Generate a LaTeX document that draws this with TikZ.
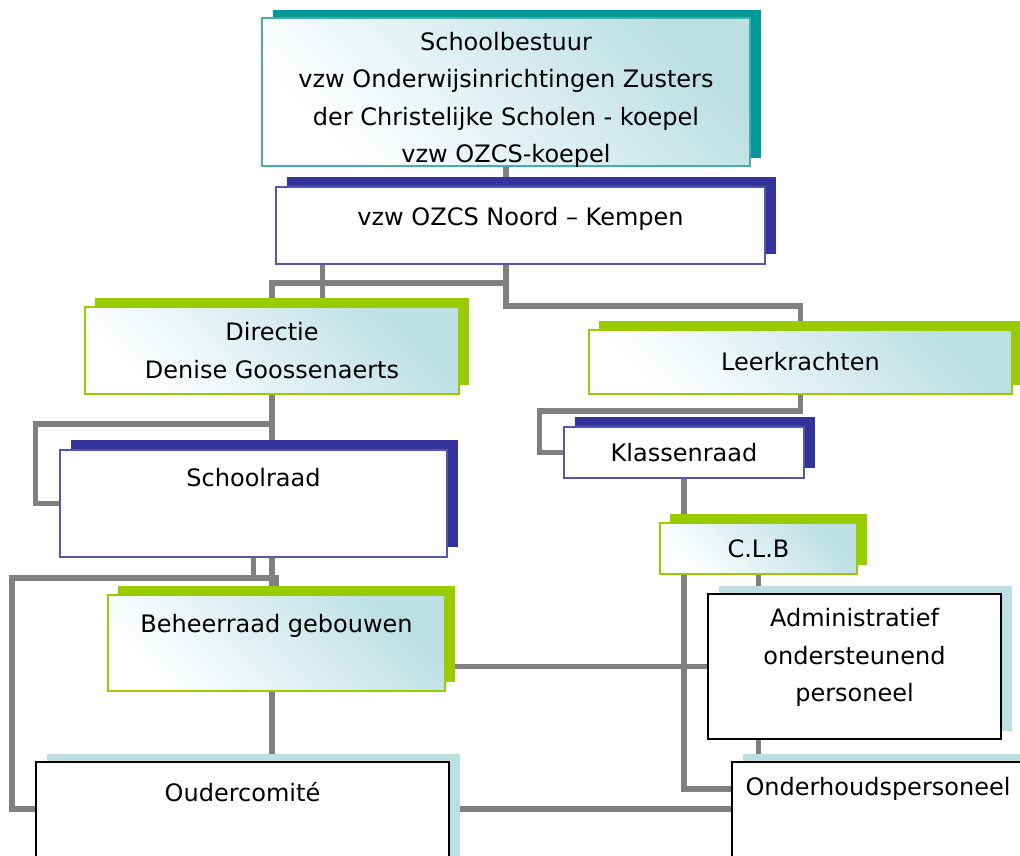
\documentclass[tikz,border=0pt]{standalone}
\usepackage{fontspec}
\setmainfont{DejaVu Sans}
\usetikzlibrary{positioning, shadows, backgrounds}
\definecolor{tealshade}{RGB}{0,153,153}
\definecolor{tealline}{RGB}{70,172,172}
\definecolor{navyshade}{RGB}{51,51,153}
\definecolor{navyline}{RGB}{85,85,178}
\definecolor{limegreen}{RGB}{153,204,0}
\definecolor{paleblue}{RGB}{187,223,227}
\definecolor{linkgray}{RGB}{128,128,128}
\tikzset{
every node/.style={font=\fontsize{24}{37.5}\selectfont, align=center, inner sep=0pt}, % same text everywhere
link/.style={draw=linkgray, line width=5.5pt}, % grey connectors
faded/.style={top color=paleblue, bottom color=white, shading angle=-45}, % white to pale blue
tealbox/.style={faded, draw=tealline, line width=1.5pt, drop shadow={shadow xshift=11pt, shadow yshift=8pt, fill=tealshade, opacity=1}},
navybox/.style={fill=white, draw=navyline, line width=1.5pt, drop shadow={shadow xshift=11pt, shadow yshift=10pt, fill=navyshade, opacity=1}},
limebox/.style={faded, draw=limegreen, line width=1.5pt, drop shadow={shadow xshift=10pt, shadow yshift=9pt, fill=limegreen, opacity=1}},
plainbox/.style={fill=white, draw=black, line width=2pt, drop shadow={shadow xshift=11pt, shadow yshift=8pt, fill=paleblue, opacity=1}},
}

\begin{document}
\begin{tikzpicture}[x=1pt, y=-1pt]
  \useasboundingbox (0,0) rectangle (1020,856);

  \node[tealbox, minimum width=488pt, minimum height=148pt, text height=142pt, text depth=0pt] (bestuur) at (506,92) {Schoolbestuur\\vzw Onderwijsinrichtingen Zusters\\der Christelijke Scholen - koepel\\vzw OZCS-koepel};
  \node[navybox, minimum width=489pt, minimum height=77pt, text depth=19pt, node distance=133.5pt, below of=bestuur, xshift=14.5pt] (ozcs) {vzw OZCS Noord – Kempen};
  \node[limebox, minimum width=374pt, minimum height=87pt, node distance=125pt, below of=ozcs, xshift=-248.5pt] (directie) {Directie\\Denise Goossenaerts};
  \node[limebox, minimum width=423pt, minimum height=64pt, node distance=136.5pt, below of=ozcs, xshift=280pt] (leerkr) {Leerkrachten};
  \node[navybox, minimum width=240pt, minimum height=51pt, node distance=90.5pt, below of=leerkr, xshift=-116.5pt] (klassen) {Klassenraad};
  \node[navybox, minimum width=387pt, minimum height=107pt, text depth=53pt, node distance=153pt, below of=directie, xshift=-18.5pt] (schoolraad) {Schoolraad};
  \node[limebox, minimum width=197pt, minimum height=51pt, node distance=96pt, below of=klassen, xshift=74.5pt] (clb) {C.L.B};
  \node[limebox, minimum width=337pt, minimum height=96pt, text depth=40pt, node distance=139.5pt, below of=schoolraad, xshift=23pt] (beheer) {Beheerraad gebouwen};
  \node[plainbox, minimum width=293pt, minimum height=145pt, text depth=23pt, node distance=118pt, below of=clb, xshift=96pt] (admin) {Administratief\\ondersteunend\\personeel};
  \node[plainbox, minimum width=413pt, minimum height=145pt, text depth=85pt, node distance=191.5pt, below of=beheer, xshift=-34pt] (ouder) {Oudercomité};
  \node[plainbox, minimum width=292pt, minimum height=145pt, text depth=97pt, node distance=168pt, below of=admin, xshift=23.5pt] (onderh) {Onderhoudspersoneel};

  \begin{scope}[on background layer]
    \draw[link] (bestuur.south) -- (bestuur.south |- ozcs.north);
    \draw[link] (bestuur.south |- ozcs.south) -- ++(0,41) -| (leerkr.north);
    \draw[link] (bestuur.south |- ozcs.south) -- ++(0,18) -| (directie.north);
    \draw[link] ([xshift=47pt]ozcs.south west) -- ([xshift=47pt]ozcs.south west |- directie.north);
    \draw[link] (directie.south) -- (directie.south |- schoolraad.north);
    \draw[link] (directie.south) -- ++(0,29) -| ([xshift=-24pt]schoolraad.west) -- (schoolraad.west);
    \draw[link] (directie.south |- schoolraad.south) -- (directie.south |- ouder.north);
    \coordinate (leftbus) at (12,578);
    \draw[link] (schoolraad.south) |- (leftbus) |- ([yshift=-48pt]ouder.north west);
    \draw[link] (beheer.north) |- (schoolraad.south |- leftbus);
    \draw[link] (admin.west) -- (admin.west -| beheer.east);
    \draw[link] ([yshift=-48pt]ouder.north east) -- ([yshift=-48pt]ouder.north east -| onderh.west);
    \draw[link] (leerkr.south) -- ++(0,16) -| ([xshift=-24pt]klassen.west) -- (klassen.west);
    \draw[link] (klassen.south) |- ([yshift=-28pt]onderh.north west);
    \draw[link] (clb.south) -- (clb.south |- onderh.north);
  \end{scope}
\end{tikzpicture}
\end{document}
